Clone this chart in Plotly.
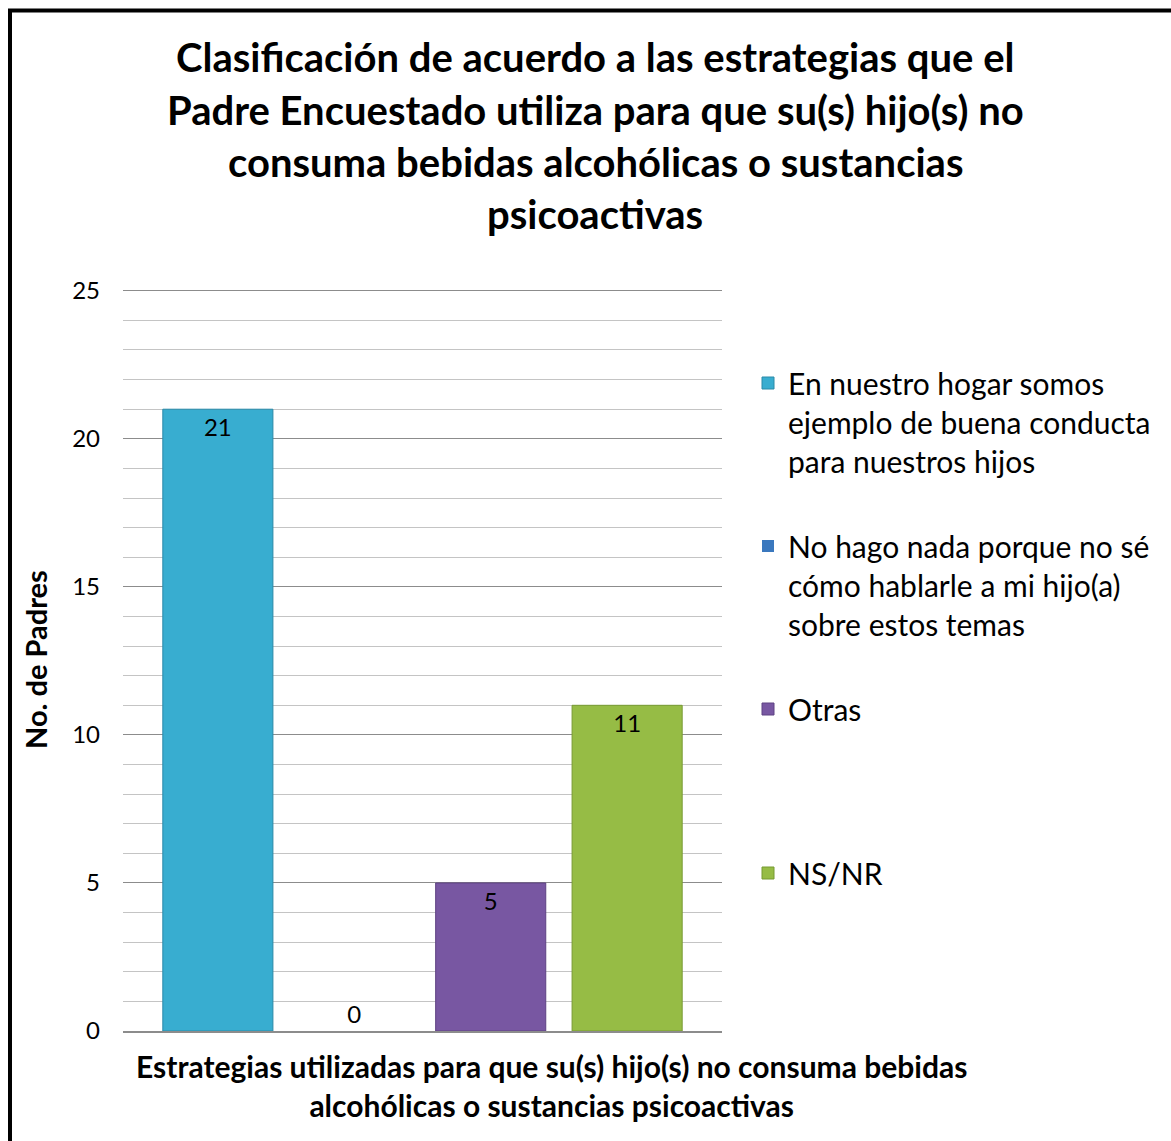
import plotly.graph_objects as go

W, H = 1171, 1141
L, R, T, B = 123, 722, 289, 1031  # plot area in pixels

category = [""]
series_names = [
    "En nuestro hogar somos<br>ejemplo de buena conducta<br>para nuestros hijos",
    "No hago nada porque no sé<br>cómo hablarle a mi hijo(a)<br>sobre estos temas",
    "Otras",
    "NS/NR",
]
series_values = [21, 0, 5, 11]
series_colors = ["#38ADD0", "#3A78BE", "#7857A2", "#96BC45"]
line_colors = ["#2A8AA8", "#2C5F99", "#5E4283", "#779A33"]
legend_ids = ["legend", "legend2", "legend3", "legend4"]
legend_rows_px = [385, 548, 711, 875]

title_lines = [
    "Clasificación de acuerdo a las estrategias que el",
    "Padre Encuestado utiliza para que su(s) hijo(s) no",
    "consuma bebidas alcohólicas o sustancias",
    "psicoactivas",
]
title_rows_px = [57, 110, 162, 214]
xtitle = "Estrategias utilizadas para que su(s) hijo(s) no consuma bebidas<br>alcohólicas o sustancias psicoactivas"
ytitle = "No. de Padres"

FONT = "Lato"

def px_x(p):
    return (p - L) / (R - L)

def px_y(p):
    return (B - p) / (B - T)

fig = go.Figure()
for name, val, col, lc, lg in zip(series_names, series_values, series_colors, line_colors, legend_ids):
    fig.add_trace(go.Bar(
        x=category, y=[val], name=name,
        marker=dict(color=col, line=dict(color=lc, width=1 if val > 0 else 0)),
        text=[str(val)],
        textposition="inside" if val > 0 else "outside",
        insidetextanchor="end",
        textfont=dict(family=FONT, size=24, color="black"),
        outsidetextfont=dict(family=FONT, size=24, color="black"),
        cliponaxis=False,
        legend=lg,
    ))

legend_layouts = {}
for lg, row in zip(legend_ids, legend_rows_px):
    legend_layouts[lg] = dict(
        x=px_x(748), xanchor="left",
        y=px_y(row - 28), yanchor="top",
        valign="top",
        font=dict(family=FONT, size=30, color="black"),
        bgcolor="rgba(0,0,0,0)",
    )

annotations = []
for line, row in zip(title_lines, title_rows_px):
    annotations.append(dict(
        text="<b>" + line + "</b>", xref="paper", yref="paper",
        x=px_x(595), y=px_y(row), xanchor="center", yanchor="middle",
        showarrow=False, font=dict(family=FONT, size=40, color="black"),
    ))
annotations.append(dict(
    text="<b>" + xtitle + "</b>", xref="paper", yref="paper",
    x=px_x(551), y=px_y(1085), xanchor="center", yanchor="middle",
    showarrow=False, font=dict(family=FONT, size=30, color="black"),
))
annotations.append(dict(
    text="<b>" + ytitle + "</b>", xref="paper", yref="paper",
    x=px_x(35), y=px_y(660), xanchor="center", yanchor="middle",
    textangle=-90, showarrow=False, font=dict(family=FONT, size=29, color="black"),
))

fig.update_layout(
    width=W, height=H,
    margin=dict(l=L, r=W - R, t=T, b=H - B, autoexpand=False),
    paper_bgcolor="white", plot_bgcolor="white",
    barmode="group", bargap=0.089, bargroupgap=0.193,
    showlegend=True,
    annotations=annotations,
    shapes=[dict(
        type="rect", xref="paper", yref="paper",
        x0=px_x(10), x1=px_x(1200), y0=px_y(10.5), y1=px_y(1200),
        line=dict(color="black", width=4), fillcolor="rgba(0,0,0,0)", layer="above",
    )],
    **legend_layouts,
)
fig.update_xaxes(
    showticklabels=False, showgrid=False, zeroline=False,
    showline=True, linecolor="#8C8C8C", linewidth=2,
)
fig.update_yaxes(
    range=[0, 25.06], dtick=5, tick0=0,
    showgrid=True, gridcolor="#8C8C8C", gridwidth=1,
    minor=dict(dtick=1, showgrid=True, gridcolor="#C4C4C4", gridwidth=1),
    zeroline=False, showline=False,
    ticks="", ticklabelstandoff=22,
    tickfont=dict(family=FONT, size=24, color="black"),
)

fig.write_html("out.html", config={"displayModeBar": False},
               post_script="document.body.style.margin='0';")
